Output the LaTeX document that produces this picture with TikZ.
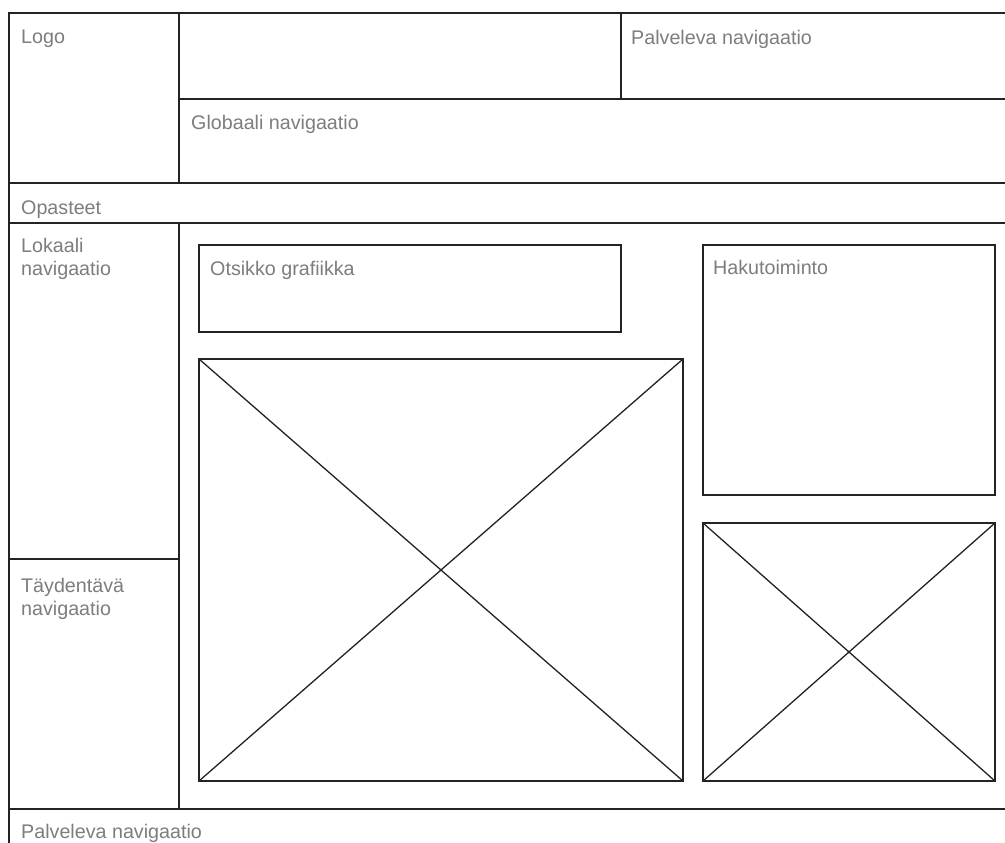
\documentclass[tikz,border=0pt]{standalone}
\usepackage{fontspec}
\setmainfont{Liberation Sans}
\definecolor{linec}{RGB}{35,35,35}
\definecolor{textc}{RGB}{125,125,125}
\tikzset{
  frame/.style={draw=linec, line width=2pt},
  box/.style={draw=linec, line width=2pt, rectangle, inner sep=0pt, outer sep=0pt, anchor=north west},
  cross/.style={draw=linec, line width=1.3pt},
  lbl/.style={anchor=base west, inner sep=0pt, text=textc, font=\fontsize{19.7}{23}\selectfont, align=left}
}
\begin{document}
\begin{tikzpicture}[x=1pt,y=-1pt]
\useasboundingbox (0,0) rectangle (1005,843);
\fill[white] (0,0) rectangle (1005,843);
% frame lines
\draw[frame] (1010,13) -- (9,13) -- (9,850);
\draw[frame] (179,13) -- (179,183);
\draw[frame] (179,99) -- (1010,99);
\draw[frame] (621,13) -- (621,99);
\draw[frame] (9,183) -- (1010,183);
\draw[frame] (9,223) -- (1010,223);
\draw[frame] (179,223) -- (179,809);
\draw[frame] (9,559) -- (179,559);
\draw[frame] (9,809) -- (1010,809);
% inner boxes
\node[box, minimum width=422pt, minimum height=87pt] (otsikko) at (199,245) {};
\node[box, minimum width=484pt, minimum height=422pt] (kuva) at (199,359) {};
\node[box, minimum width=292pt, minimum height=250pt] (haku) at (703,245) {};
\node[box, minimum width=292pt, minimum height=258pt] (kuva2) at (703,523) {};
\draw[cross] (kuva.north west) -- (kuva.south east);
\draw[cross] (kuva.north east) -- (kuva.south west);
\draw[cross] (kuva2.north west) -- (kuva2.south east);
\draw[cross] (kuva2.north east) -- (kuva2.south west);
% labels
\node[lbl] (logo) at (21,44) {Logo};
\node[lbl] (palv1) at (631,45) {Palveleva navigaatio};
\node[lbl] (glob) at (191,129) {Globaali navigaatio};
\node[lbl] (opas) at (21,214) {Opasteet};
\node[lbl] (lok) at (21,275) {Lokaali\\navigaatio};
\node[lbl] (tayd) at (21,615) {Täydentävä\\navigaatio};
\node[lbl] (otsl) at (210,275) {Otsikko grafiikka};
\node[lbl] (hakul) at (713,274) {Hakutoiminto};
\node[lbl] (palv2) at (21,838) {Palveleva navigaatio};
\end{tikzpicture}
\end{document}
